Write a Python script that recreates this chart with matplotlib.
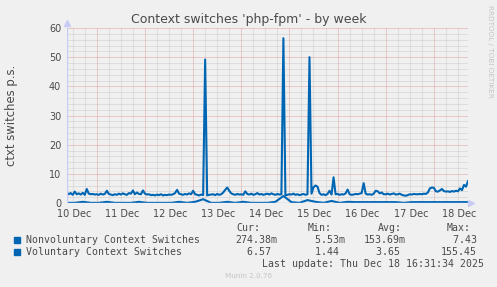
import numpy as np
import matplotlib
matplotlib.use("Agg")
import matplotlib.pyplot as plt
from matplotlib.patches import Rectangle

W, H = 497, 287

# voluntary context switches, hourly, Dec 10 09:00 -> Dec 18 17:00
dec10 = [3.6, 3.0, 3.4, 2.8, 3.9, 3.0, 3.3, 2.9, 3.5, 2.8, 4.8, 3.2, 3.0, 3.1, 2.9]
dec11 = [3.0, 2.8, 3.2, 2.9, 3.1, 4.2, 3.1, 2.9, 2.7, 3.0, 2.8, 3.2, 2.9, 3.3, 3.0, 2.8,
         3.4, 3.2, 4.3, 3.0, 3.6, 3.1, 3.0, 4.3]
dec12 = [3.2, 2.9, 3.0, 2.7, 2.8, 2.6, 2.9, 2.7, 3.0, 2.6, 2.8, 2.7, 2.9, 2.8, 3.0, 3.4,
         4.5, 3.2, 3.0, 2.8, 3.1, 2.9, 3.3, 3.0]
dec13 = [4.2, 3.0, 2.8, 2.6, 2.9, 2.7, 49.2, 2.6, 2.8, 2.9, 3.0, 2.7, 3.1, 2.8, 3.0, 3.6,
         4.5, 5.3, 4.2, 3.3, 3.0, 2.8, 3.1, 2.9]
dec14 = [3.0, 2.8, 4.0, 3.1, 2.9, 3.2, 2.8, 3.0, 3.4, 2.9, 3.1, 2.8, 3.0, 3.2, 2.9, 3.3,
         3.0, 2.8, 3.1, 2.9, 3.0, 56.5, 2.6, 2.8]
dec15 = [3.0, 2.9, 3.2, 2.8, 3.0, 2.7, 2.9, 3.1, 2.8, 3.0, 50.0, 3.2, 5.4, 6.0, 5.6, 3.4,
         2.8, 3.0, 2.7, 3.1, 4.2, 2.9, 8.8, 3.0]
dec16 = [3.1, 2.8, 3.0, 2.9, 3.3, 4.6, 3.0, 2.8, 2.9, 3.1, 3.0, 3.2, 3.4, 6.8, 3.2, 2.9,
         3.0, 2.8, 3.2, 4.2, 4.0, 3.3, 3.6, 3.0]
dec17 = [3.0, 3.2, 2.9, 3.1, 3.3, 2.9, 3.0, 3.2, 2.8, 2.6, 2.5, 2.7, 3.0, 2.9, 3.1, 3.0,
         3.0, 3.1, 3.0, 3.2, 3.1, 3.6, 5.0, 5.3]
dec18 = [5.2, 4.0, 3.9, 4.3, 4.8, 4.1, 3.9, 4.0, 3.8, 4.1, 3.9, 4.2, 4.0, 5.0, 4.4, 6.2,
         5.6, 7.5]
voluntary = dec10 + dec11 + dec12 + dec13 + dec14 + dec15 + dec16 + dec17 + dec18

# nonvoluntary, every 4 hours from Dec 10 09:00
nonvoluntary = [0.05, 0.05, 0.4, 0.05, 0.05, 0.4, 0.05, 0.05, 0.05, 0.4,
                0.05, 0.05, 0.05, 0.05, 0.4, 0.05, 0.4, 1.3, 0.05, 0.05,
                0.4, 0.05, 0.4, 0.05, 0.05, 0.05, 0.4, 2.4, 0.3, 0.05,
                1.0, 0.4, 0.05, 0.7, 0.05, 0.4, 0.3, 0.3, 0.3, 0.3,
                0.3, 0.3, 0.05, 0.3, 0.3, 0.3, 0.3, 0.3, 0.3, 0.3, 0.3]

day_labels = ["10 Dec", "11 Dec", "12 Dec", "13 Dec", "14 Dec",
              "15 Dec", "16 Dec", "17 Dec", "18 Dec"]
series_names = ["Nonvoluntary Context Switches", "Voluntary Context Switches"]
cur_vals = ["274.38m", "  6.57"]
min_vals = ["  5.53m", "  1.44"]
avg_vals = ["153.69m", "  3.65"]
max_vals = ["  7.43", "155.45"]

t_start = 9  # hours since Dec 10 00:00
t_vol = t_start + np.arange(len(voluntary))
t_nonvol = t_start + 4 * np.arange(len(nonvoluntary))
t_end = t_start + len(voluntary) - 1

blue = "#0066b3"
axis_col = "#c8ccf4"
txt = "#4a4a4a"

fig = plt.figure(figsize=(W / 100, H / 100), dpi=100, facecolor="#f0f0f0")
left, right, top, bottom = 66.7, 468, 28, 203
ax = fig.add_axes([left / W, 1 - bottom / H, (right - left) / W, (bottom - top) / H])
ax.set_facecolor("#f0f0f0")

ax.set_xlim(t_start, t_end)
ax.set_ylim(0, 60)

# grid
for x in np.arange(12, t_end, 6):
    if x % 24:
        ax.axvline(x, color="#cccccc", lw=0.72, ls=(0, (1, 1)), zorder=0)
for y in np.arange(2, 60, 2):
    if y % 10:
        ax.axhline(y, color="#cccccc", lw=0.72, ls=(0, (1, 1)), zorder=0)
for x in np.arange(24, t_end, 24):
    ax.axvline(x, color="#e6a0a0", lw=0.72, ls=(0, (1, 1)), zorder=0.5)
for y in range(10, 61, 10):
    ax.axhline(y, color="#e6a0a0", lw=0.72, ls=(0, (1, 1)), zorder=0.5)

ax.plot(t_vol, voluntary, color=blue, lw=1.5, zorder=2)
ax.plot(t_nonvol, nonvoluntary, color=blue, lw=1.5, zorder=2)

for s in ax.spines.values():
    s.set_visible(False)
ax.axhline(0, color=axis_col, lw=1, zorder=3)
ax.axvline(t_start, color=axis_col, lw=1, zorder=3)
ax.plot([1.0075], [0], marker=">", ms=4, color=axis_col, transform=ax.transAxes,
        clip_on=False, zorder=3)
ax.plot([0], [1.03], marker="^", ms=4, color=axis_col, transform=ax.transAxes,
        clip_on=False, zorder=3)

ax.set_yticks(range(0, 61, 10))
ax.set_yticklabels([str(v) for v in range(0, 61, 10)])
ax.set_xticks([24 * i + 12.5 for i in range(len(day_labels))])
ax.set_xticklabels(day_labels)
ax.tick_params(length=0, labelsize=7, colors=txt, pad=4)

fig.text(248.5 / W, 1 - 19 / H, "Context switches 'php-fpm' - by week",
         ha="center", va="center", fontsize=9, color=txt)
fig.text(12 / W, 1 - 115 / H, "ctxt switches p.s.", rotation=90,
         ha="center", va="center", fontsize=8.4, color=txt)
fig.text(490 / W, 1 - 5 / H, "RRDTOOL / TOBI OETIKER", rotation=-90,
         ha="center", va="top", fontsize=5.2, color="#c4c4c4")
fig.text(248.5 / W, 1 - 276 / H, "Munin 2.0.76", ha="center", va="center",
         fontsize=5.2, color="#c4c4c4")

mono = dict(family="DejaVu Sans Mono", fontsize=7.1, color=txt, va="center")
for x, head in [(236, "Cur:"), (308, "Min:"), (378, "Avg:"), (447, "Max:")]:
    fig.text(x / W, 1 - 228 / H, head, **mono)
rows_y = [240, 252]
for i, name in enumerate(series_names):
    y = 1 - rows_y[i] / H
    fig.patches.append(Rectangle((14 / W, y - 3 / H), 6 / W, 6 / H, color=blue,
                                 transform=fig.transFigure, figure=fig))
    fig.text(26 / W, y, name, **mono)
    fig.text(235 / W, y, cur_vals[i], **mono)
    fig.text(303 / W, y, min_vals[i], **mono)
    fig.text(364 / W, y, avg_vals[i], **mono)
    fig.text(441 / W, y, max_vals[i], **mono)
fig.text(262 / W, 1 - 264 / H, "Last update: Thu Dec 18 16:31:34 2025", **mono)

fig.savefig("out.png", dpi=100, facecolor=fig.get_facecolor())
